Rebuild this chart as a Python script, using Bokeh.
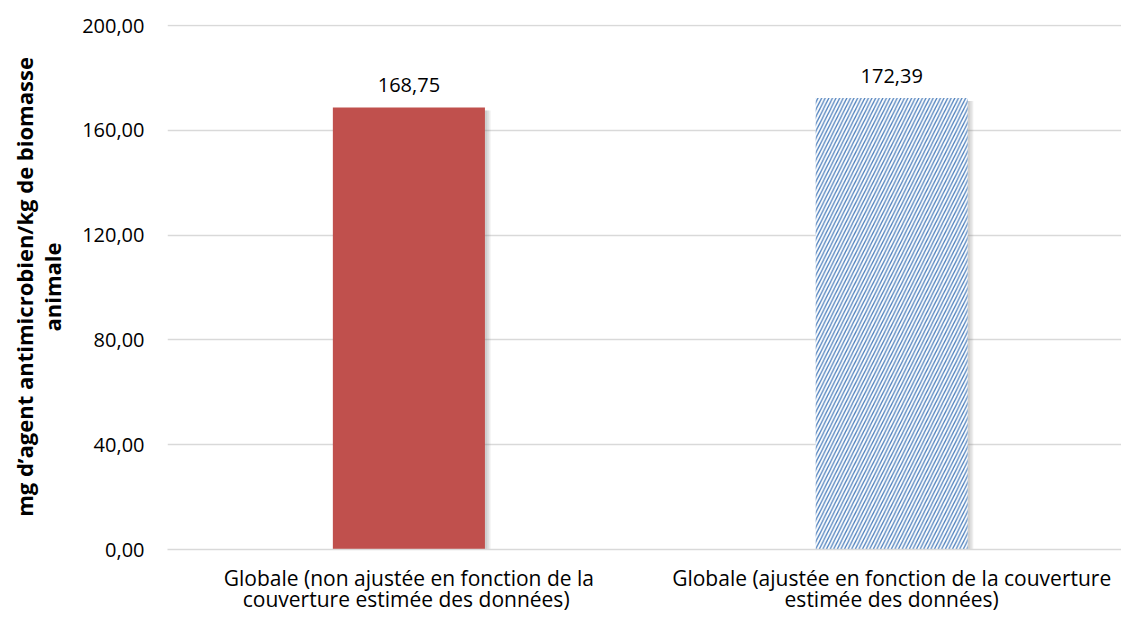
from bokeh.plotting import figure
from bokeh.models import ColumnDataSource, Range1d, FixedTicker
from bokeh.transform import dodge
from bokeh.core.properties import value
from bokeh.embed import file_html
from bokeh.resources import INLINE

categories = [
    "Globale (non ajustée en fonction de la\ncouverture estimée des  données)",
    "Globale (ajustée en fonction de la couverture\nestimée des données)",
]
values = [168.75, 172.39]
value_labels = ["168,75", "172,39"]
y_ticks = [0, 40, 80, 120, 160, 200]
y_tick_labels = ["0,00", "40,00", "80,00", "120,00", "160,00", "200,00"]

FONT = "Open Sans"

xs = [i + 0.5 for i in range(len(categories))]
src_red = ColumnDataSource(dict(x=xs[:1], top=values[:1], lab=value_labels[:1]))
src_blue = ColumnDataSource(dict(x=xs[1:], top=values[1:], lab=value_labels[1:]))
src_all = ColumnDataSource(dict(x=xs, top=values, lab=value_labels,
                                stop=[v - 1.2 for v in values]))

p = figure(width=1121, height=621, output_backend="svg", toolbar_location=None,
           x_range=Range1d(0, 1.976), y_range=Range1d(0, 200.4),
           min_border_left=167, min_border_right=0, min_border_top=24,
           min_border_bottom=72)
p.outline_line_color = None
p.background_fill_color = "white"

# soft shadow (layered)
for off, bot in [(0.0115, -2.0), (0.008, -1.5), (0.0045, -1.0)]:
    p.vbar(x=dodge("x", off), top="stop", bottom=bot, width=0.315, source=src_all,
           fill_color="#808080", fill_alpha=0.14, line_color=None)

p.vbar(x="x", top="top", bottom=0, width=0.315, source=src_red,
       fill_color="#C0504D", line_color=None)
p.vbar(x="x", top="top", bottom=0, width=0.315, source=src_blue,
       fill_color="white", line_color=None, hatch_pattern="/",
       hatch_color="#4F81BD", hatch_scale=7.2, hatch_weight=1.3)

p.text(x="x", y="top", text="lab", source=src_all, text_align="center",
       text_baseline="middle", y_offset=-22, text_font_size="20px",
       text_font=value(FONT), text_color="#000000")

p.xgrid.grid_line_color = None
p.ygrid.grid_line_color = "#d9d9d9"
p.ygrid.grid_line_width = 1.5
p.ygrid.ticker = FixedTicker(ticks=y_ticks)

p.yaxis.ticker = FixedTicker(ticks=y_ticks)
p.yaxis.major_label_overrides = {t: l for t, l in zip(y_ticks, y_tick_labels)}
p.yaxis.axis_line_color = None
p.yaxis.major_tick_line_color = None
p.yaxis.minor_tick_line_color = None
p.yaxis.major_tick_out = 0
p.yaxis.major_label_standoff = 23
p.yaxis.major_label_text_font = FONT
p.yaxis.major_label_text_font_size = "20px"
p.yaxis.major_label_text_color = "#000000"
p.yaxis.axis_label = "mg d’agent antimicrobien/kg de biomasse\nanimale"
p.yaxis.axis_label_text_font = FONT
p.yaxis.axis_label_text_font_size = "22px"
p.yaxis.axis_label_text_font_style = "bold"
p.yaxis.axis_label_text_color = "#000000"
p.yaxis.axis_label_text_line_height = 0.95
p.yaxis.axis_label_standoff = 12

p.xaxis.ticker = FixedTicker(ticks=xs)
p.xaxis.major_label_overrides = {x: c for x, c in zip(xs, categories)}
p.xaxis.axis_line_color = "#d9d9d9"
p.xaxis.axis_line_width = 1.5
p.xaxis.major_tick_line_color = None
p.xaxis.minor_tick_line_color = None
p.xaxis.major_tick_out = 0
p.xaxis.major_label_standoff = 14
p.xaxis.major_label_text_font = FONT
p.xaxis.major_label_text_font_size = "21px"
p.xaxis.major_label_text_color = "#000000"
p.xaxis.major_label_text_line_height = 0.77

open("out.html", "w").write(file_html(p, INLINE))
